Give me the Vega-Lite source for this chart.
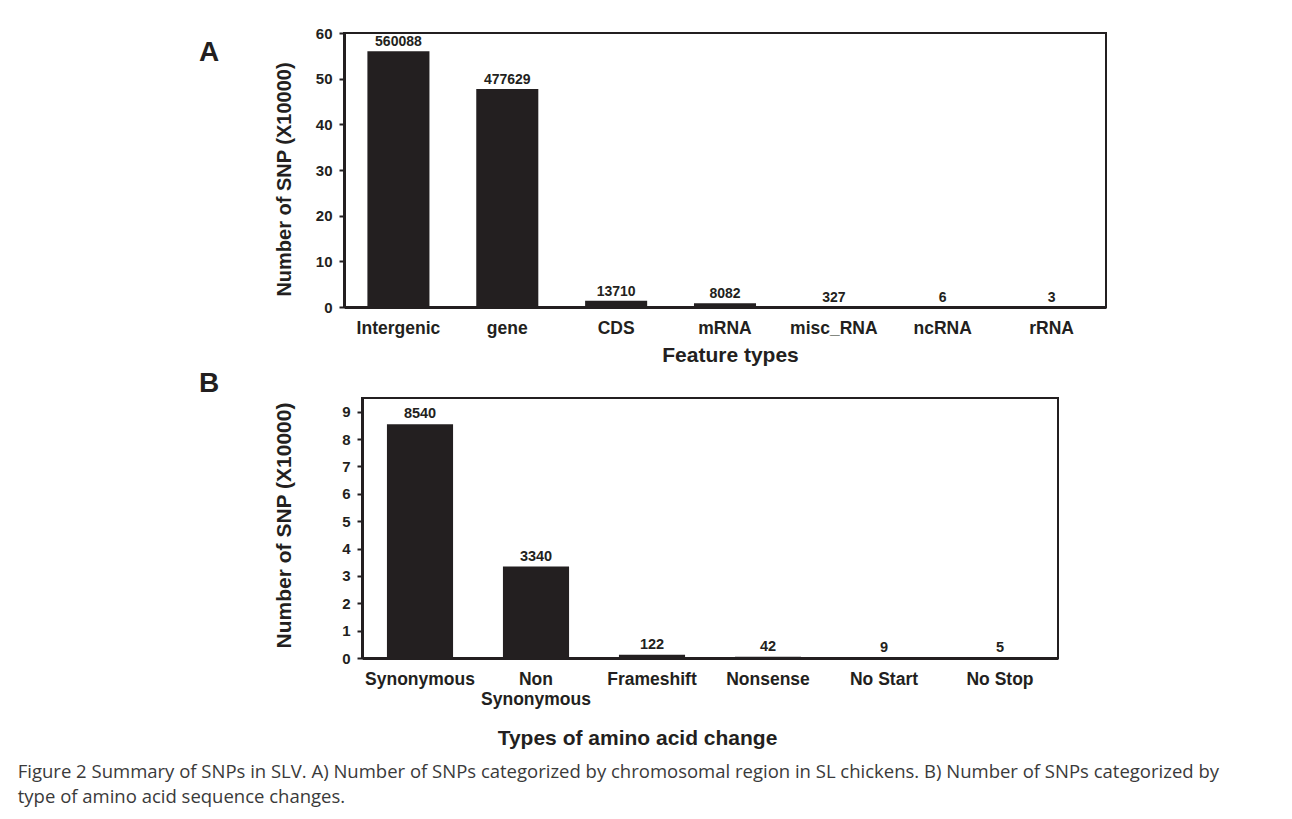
{
  "$schema": "https://vega.github.io/schema/vega-lite/v6.json",
  "background": "white",
  "padding": {"left": 17, "top": 25, "right": 5, "bottom": 5},
  "config": {
    "font": "Liberation Sans",
    "view": {"stroke": "#231f20", "strokeWidth": 2},
    "axis": {
      "labelFont": "Liberation Sans", "labelFontWeight": "bold", "labelColor": "#231f20",
      "titleFont": "Liberation Sans", "titleFontWeight": "bold", "titleColor": "#231f20",
      "domainColor": "#231f20", "tickColor": "#231f20", "grid": false, "domainWidth": 3
    }
  },
  "title": {
    "text": ["Figure 2 Summary of SNPs in SLV. A) Number of SNPs categorized by chromosomal region in SL chickens. B) Number of SNPs categorized by", "type of amino acid sequence changes."],
    "orient": "bottom", "anchor": "start", "font": "Open Sans", "fontSize": 18.5, "fontWeight": "normal",
    "color": "#3a3a3a", "dx": -174, "offset": 14, "lineHeight": 25
  },
  "spacing": 3,
  "vconcat": [
    {
      "spacing": 0,
      "hconcat": [
        {
          "width": 1, "height": 1, "view": {"stroke": null},
          "data": {"values": [{"a": 0}]},
          "mark": {"type": "point", "opacity": 0}, "encoding": {}
        },
        {
          "width": 762, "height": 274,
          "title": {"text": "A", "anchor": "start", "frame": "group", "font": "Liberation Sans", "fontSize": 28, "fontWeight": "bold", "color": "#231f20", "dx": -145, "dy": 45},
          "data": {"values": [
            {"type": "Intergenic", "value": 56.0088, "label": "560088"},
            {"type": "gene", "value": 47.7629, "label": "477629"},
            {"type": "CDS", "value": 1.371, "label": "13710"},
            {"type": "mRNA", "value": 0.8082, "label": "8082"},
            {"type": "misc_RNA", "value": 0.0327, "label": "327"},
            {"type": "ncRNA", "value": 0.0006, "label": "6"},
            {"type": "rRNA", "value": 0.0003, "label": "3"}
          ]},
          "encoding": {
            "x": {"field": "type", "type": "nominal", "sort": null,
              "scale": {"paddingInner": 0.43, "paddingOuter": 0.215},
              "axis": {"title": "Feature types", "titleFontSize": 21, "titleX": 386, "titleY": 48, "titleBaseline": "middle", "titleAlign": "center",
                "labelFontSize": 17.5, "labelPadding": 12, "labelAngle": 0, "ticks": false}},
            "y": {"field": "value", "type": "quantitative",
              "scale": {"domain": [0, 60], "nice": false},
              "axis": {"title": "Number of SNP (X10000)", "titleFontSize": 20, "titleX": -60, "titleY": 146, "titleAngle": -90, "titleBaseline": "middle", "titleAlign": "center",
                "values": [0, 10, 20, 30, 40, 50, 60], "labelFontSize": 15, "labelPadding": 7, "tickSize": 5, "tickWidth": 2}}
          },
          "layer": [
            {"mark": {"type": "bar", "color": "#231f20"}},
            {"mark": {"type": "text", "baseline": "bottom", "dy": -2, "fontSize": 14, "fontWeight": "bold", "color": "#231f20"},
              "encoding": {"text": {"field": "label"}}}
          ]
        }
      ]
    },
    {
      "spacing": 0,
      "hconcat": [
        {
          "width": 1, "height": 1, "view": {"stroke": null},
          "data": {"values": [{"a": 0}]},
          "mark": {"type": "point", "opacity": 0}, "encoding": {}
        },
        {
          "width": 696, "height": 260,
          "title": {"text": "B", "anchor": "start", "frame": "group", "font": "Liberation Sans", "fontSize": 28, "fontWeight": "bold", "color": "#231f20", "dx": -163, "dy": 4},
          "data": {"values": [
            {"type": "Synonymous", "value": 8.54, "label": "8540"},
            {"type": "Non Synonymous", "value": 3.34, "label": "3340"},
            {"type": "Frameshift", "value": 0.122, "label": "122"},
            {"type": "Nonsense", "value": 0.042, "label": "42"},
            {"type": "No Start", "value": 0.009, "label": "9"},
            {"type": "No Stop", "value": 0.005, "label": "5"}
          ]},
          "encoding": {
            "x": {"field": "type", "type": "nominal", "sort": null,
              "scale": {"paddingInner": 0.43, "paddingOuter": 0.215},
              "axis": {"title": "Types of amino acid change", "titleFontSize": 21, "titleX": 275, "titleY": 80, "titleBaseline": "middle", "titleAlign": "center",
                "labelFontSize": 17.5, "labelPadding": 12, "labelAngle": 0, "ticks": false, "labelLineHeight": 20,
                "labelExpr": "datum.value === 'Non Synonymous' ? ['Non', 'Synonymous'] : datum.label"}},
            "y": {"field": "value", "type": "quantitative",
              "scale": {"domain": [0, 9.5], "nice": false},
              "axis": {"title": "Number of SNP (X10000)", "titleFontSize": 21, "titleX": -78, "titleY": 127, "titleAngle": -90, "titleBaseline": "middle", "titleAlign": "center",
                "values": [0, 1, 2, 3, 4, 5, 6, 7, 8, 9], "labelFontSize": 15, "labelPadding": 7, "tickSize": 5, "tickWidth": 2}}
          },
          "layer": [
            {"mark": {"type": "bar", "color": "#231f20"}},
            {"mark": {"type": "text", "baseline": "bottom", "dy": -3, "fontSize": 14.5, "fontWeight": "bold", "color": "#231f20"},
              "encoding": {"text": {"field": "label"}}}
          ]
        }
      ]
    }
  ]
}
